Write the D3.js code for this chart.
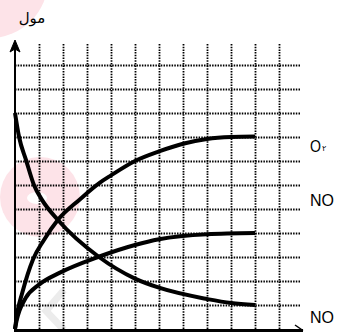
<!DOCTYPE html>
<meta charset="utf-8">
<html>
<head>
<script src="https://d3js.org/d3.v7.min.js"></script>
<style>
  body { margin: 0; background: #fff; }
  svg { display: block; }
</style>
</head>
<body>
<div id="chart"></div>
<script>
// grid steps (units)
var gridX = [1, 2, 3, 4, 5, 6, 7, 8, 9, 10, 11];
var gridY = [1, 2, 3, 4, 5, 6, 7, 8, 9, 10, 11];

// curves (time units, mol units)
var o2X = [0, 0.1, 0.3, 0.75, 1.2, 1.79, 2.7, 3.54, 4, 5, 6, 7, 8, 9, 10];
var o2Y = [0, 0.7, 1.5, 2.9, 3.7, 4.55, 5.4, 6.1, 6.4, 7.0, 7.4, 7.72, 7.92, 8.0, 8.02];

var noUpX = [0, 0.08, 0.2, 0.45, 1.0, 1.875, 3.46, 5, 6, 8, 10];
var noUpY = [0, 0.4, 0.8, 1.3, 1.85, 2.35, 3.0, 3.5, 3.74, 3.95, 4.0];

var noDownX = [0, 0.17, 0.46, 0.79, 1.125, 1.79, 3.5, 5, 6, 8, 9, 10];
var noDownY = [9, 8, 7.04, 6, 5.38, 4.54, 3.0, 2.1, 1.72, 1.25, 1.08, 1.0];

var seriesNames = ["O", "NO", "NO"];
var subscript = "۲";
var yTitle = "مول";

var W = 338, H = 332;

var svg = d3.select("#chart").append("svg")
  .attr("width", W)
  .attr("height", H);

var x = d3.scaleLinear().domain([0, 12]).range([15, 303]);
var y = d3.scaleLinear().domain([0, 12]).range([329, 41]);

// watermark blobs (faint)
svg.append("circle").attr("cx", -10).attr("cy", -20).attr("r", 58)
  .style("fill", "#fde3e8");
svg.append("circle").attr("cx", 40).attr("cy", 197).attr("r", 40)
  .style("fill", "#fde3e8");
svg.append("ellipse").attr("cx", 37).attr("cy", 198).attr("rx", 10).attr("ry", 6)
  .style("fill", "#fff");
svg.append("polyline")
  .attr("points", "64,290 46,311 64,330")
  .style("fill", "none").style("stroke", "#ececec").style("stroke-width", 7);

// dotted grid, built from axes
var gx = svg.append("g")
  .attr("transform", "translate(0," + y(0) + ")")
  .call(d3.axisBottom(x).tickValues(gridX).tickSize(-(y(0) - y(11.9))).tickFormat(""));
var gy = svg.append("g")
  .attr("transform", "translate(" + x(0) + ",0)")
  .call(d3.axisLeft(y).tickValues(gridY).tickSize(-(x(11.9) - x(0))).tickFormat(""));
[gx, gy].forEach(function(g) {
  g.select(".domain").remove();
  g.selectAll("line")
    .style("stroke", "#000")
    .style("stroke-width", 1.8)
    .style("stroke-dasharray", "1.5,1.2");
});

// curves
var line = d3.line()
  .x(function(d) { return x(d[0]); })
  .y(function(d) { return y(d[1]); })
  .curve(d3.curveMonotoneX);

var curves = [
  [o2X, o2Y],
  [noUpX, noUpY],
  [noDownX, noDownY]
];
curves.forEach(function(c) {
  var pts = c[0].map(function(v, i) { return [v, c[1][i]]; });
  svg.append("path")
    .datum(pts)
    .attr("d", line)
    .style("fill", "none")
    .style("stroke", "#000")
    .style("stroke-width", 4);
});

// axes with arrows
svg.append("line")
  .attr("x1", x(0)).attr("y1", y(0) + 1)
  .attr("x2", x(0)).attr("y2", y(12) + 6)
  .style("stroke", "#000").style("stroke-width", 2);
svg.append("path")
  .attr("d", "M" + x(0) + "," + (y(12) - 1) + " l-5,12 l5,-3 l5,3 z")
  .style("fill", "#000").style("stroke", "#000").style("stroke-width", 1);
svg.append("line")
  .attr("x1", x(0) - 1).attr("y1", y(0) + 1.5)
  .attr("x2", x(12)).attr("y2", y(0) + 1.5)
  .style("stroke", "#000").style("stroke-width", 3);
svg.append("path")
  .attr("d", "M" + (x(12) - 8) + "," + (y(0) - 4) + " L" + x(12) + "," + (y(0) + 1.5))
  .style("fill", "none").style("stroke", "#000").style("stroke-width", 1.5);

// labels
var labelPos = [7.375, 5.125, 0.25];
seriesNames.forEach(function(name, i) {
  var t = svg.append("text")
    .attr("x", 310)
    .attr("y", y(labelPos[i]))
    .style("font-family", "'Liberation Sans', Arial, sans-serif")
    .style("font-size", "17px")
    .style("fill", "#000")
    .text(name);
  if (name === "NO") t.attr("textLength", 24).attr("lengthAdjust", "spacingAndGlyphs");
  if (i === 0) {
    t.attr("textLength", 11).attr("lengthAdjust", "spacingAndGlyphs");
    svg.append("text")
      .attr("x", 322)
      .attr("y", y(labelPos[i]) - 1)
      .style("font-family", "'DejaVu Sans', sans-serif")
      .style("font-size", "8px")
      .style("fill", "#000")
      .text(subscript);
  }
});

svg.append("text")
  .attr("x", 32)
  .attr("y", 23)
  .attr("text-anchor", "middle")
  .style("font-family", "'DejaVu Sans', sans-serif")
  .style("font-size", "15px")
  .style("fill", "#000")
  .text(yTitle);
</script>
</body>
</html>
